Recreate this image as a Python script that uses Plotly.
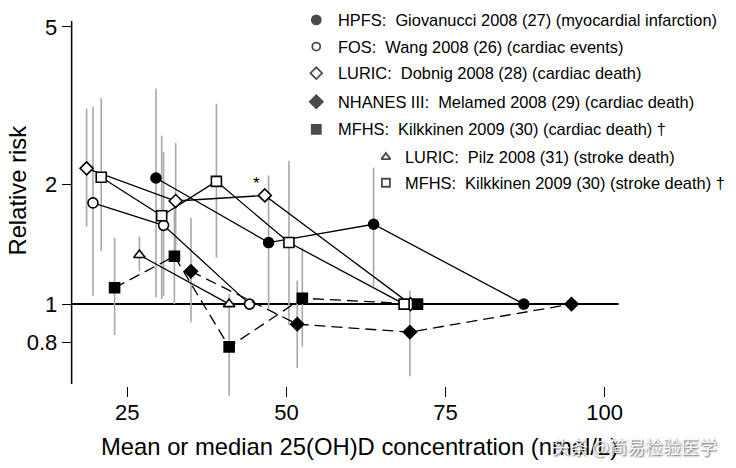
import math
import plotly.graph_objects as go

# ---------------- data ----------------
# HPFS: Giovanucci 2008 (myocardial infarction)
hpfs_x = [29.5, 47.2, 63.7, 87.3]
hpfs_rr = [2.08, 1.43, 1.59, 1.0]
hpfs_hi = [3.50, 2.11, 2.21, 1.0]
hpfs_lo = [1.04, 0.973, 1.11, 1.0]

# FOS: Wang 2008 (cardiac events)
fos_x = [19.6, 30.7, 44.2]
fos_rr = [1.80, 1.58, 1.0]
fos_hi = [3.15, 2.42, 1.0]
fos_lo = [1.05, 1.05, 1.0]

# LURIC: Dobnig 2008 (cardiac death)
dob_x = [18.6, 32.6, 46.6, 69.5]
dob_rr = [2.20, 1.82, 1.88, 1.0]
dob_hi = [3.11, 2.55, 1.88, 1.0]
dob_lo = [1.57, 1.30, 1.88, 1.0]

# NHANES III: Melamed 2008 (cardiac death)
nh_x = [35.0, 51.7, 69.4, 94.8]
nh_rr = [1.21, 0.89, 0.85, 1.0]
nh_hi = [1.65, 1.146, 1.08, 1.0]
nh_lo = [0.90, 0.69, 0.658, 1.0]

# MFHS: Kilkkinen 2009 (cardiac death)
mfc_x = [23.0, 32.4, 41.0, 52.5, 70.6]
mfc_rr = [1.10, 1.32, 0.78, 1.035, 1.0]
mfc_hi = [1.47, 1.75, 1.06, 1.39, 1.0]
mfc_lo = [0.836, 1.0, 0.587, 0.782, 1.0]

# LURIC: Pilz 2008 (stroke death)
pilz_x = [26.9, 41.0]
pilz_rr = [1.33, 1.0]
pilz_hi = [1.48, 1.0]
pilz_lo = [1.21, 1.0]

# MFHS: Kilkkinen 2009 (stroke death)
mfs_x = [20.9, 30.4, 39.0, 50.4, 68.5]
mfs_rr = [2.09, 1.67, 2.04, 1.43, 1.0]
mfs_hi = [3.31, 2.66, 3.20, 2.30, 1.0]
mfs_lo = [1.36, 1.03, 1.31, 0.885, 1.0]

x_ticks = [25, 50, 75, 100]
y_ticks = [0.8, 1, 2, 5]
y_ticktext = ["0.8", "1", "2", "5"]

legend_labels = [
    "HPFS:  Giovanucci 2008 (27) (myocardial infarction)",
    "FOS:  Wang 2008 (26) (cardiac events)",
    "LURIC:  Dobnig 2008 (28) (cardiac death)",
    "NHANES III:  Melamed 2008 (29) (cardiac death)",
    "MFHS:  Kilkkinen 2009 (30) (cardiac death) \u2020",
    "LURIC:  Pilz 2008 (31) (stroke death)",
    "MFHS:  Kilkkinen 2009 (30) (stroke death) \u2020",
]

x_title = "Mean or median 25(OH)D concentration (nmol/L)"
y_title = "Relative risk"

# ---------------- styling ----------------
FONT = "Liberation Sans, Arial, Helvetica, sans-serif"
OFF = 8                 # page (body) margin offset of the figure
W, H = 736 - 2 * OFF, 468 - 2 * OFF
ERR_COLOR = "#a8a8a8"

series = [
    # x, rr, hi, lo, symbol, fill, size, dash
    (hpfs_x, hpfs_rr, hpfs_hi, hpfs_lo, "circle", "black", 10, "solid"),
    (fos_x, fos_rr, fos_hi, fos_lo, "circle", "white", 10, "solid"),
    (dob_x, dob_rr, dob_hi, dob_lo, "diamond", "white", 10, "solid"),
    (nh_x, nh_rr, nh_hi, nh_lo, "diamond", "black", 10, "11px,6px"),
    (mfc_x, mfc_rr, mfc_hi, mfc_lo, "square", "black", 10, "11px,6px"),
    (pilz_x, pilz_rr, pilz_hi, pilz_lo, "triangle-up", "white", 10, "solid"),
    (mfs_x, mfs_rr, mfs_hi, mfs_lo, "square", "white", 10, "solid"),
]

fig = go.Figure()

# error bars first (underneath everything)
for xs, rr, hi, lo, sym, fill, size, dash in series:
    fig.add_trace(go.Scatter(
        x=xs, y=rr, mode="markers",
        marker=dict(size=1, opacity=0),
        error_y=dict(type="data", symmetric=False,
                     array=[h - r for h, r in zip(hi, rr)],
                     arrayminus=[r - l for r, l in zip(rr, lo)],
                     color=ERR_COLOR, thickness=1.6, width=0),
        showlegend=False, hoverinfo="skip", cliponaxis=False,
    ))

# reference line at RR = 1
fig.add_shape(type="line", xref="x domain", x0=0, x1=1, yref="y", y0=1, y1=1,
              line=dict(color="black", width=2), layer="below")

# lines + markers
for xs, rr, hi, lo, sym, fill, size, dash in series:
    fig.add_trace(go.Scatter(
        x=xs, y=rr, mode="lines+markers",
        line=dict(color="black", width=1.3, dash=dash),
        marker=dict(symbol=sym, size=size, color=fill,
                    line=dict(color="black", width=1.6)),
        showlegend=False, cliponaxis=False,
    ))

# legend markers (overlay subplot in reference-pixel coordinates)
leg_x = [318, 318, 318, 318, 318, 388, 388]
leg_y = [14, 41, 68, 97, 125, 153, 179]
leg_text_x = [338, 338, 338, 338, 338, 405, 405]
fig.add_trace(go.Scatter(
    x=leg_x, y=leg_y, xaxis="x2", yaxis="y2", mode="markers",
    marker=dict(symbol=[s[4] for s in series],
                color=[s[5] for s in series],
                size=[9, 8, 9, 10, 9, 8, 8],
                line=dict(color="black", width=1.8)),
    showlegend=False, hoverinfo="skip", cliponaxis=False,
))

annotations = []
for t, tx, ty in zip(legend_labels, leg_text_x, leg_y):
    annotations.append(dict(text=t, x=tx, y=ty, xref="x2", yref="y2",
                            xanchor="left", yanchor="middle", showarrow=False,
                            font=dict(family=FONT, size=16.4, color="black")))

# asterisk next to the third LURIC (Dobnig) point
annotations.append(dict(text="*", x=dob_x[2], y=math.log10(dob_rr[2]),
                        xref="x", yref="y", xshift=-8, yshift=12,
                        showarrow=False,
                        font=dict(family=FONT, size=17, color="black")))

# axis titles
annotations.append(dict(text=x_title, x=361, y=446, xref="x2", yref="y2",
                        xanchor="center", yanchor="middle", showarrow=False,
                        font=dict(family=FONT, size=23.8, color="black")))
annotations.append(dict(text=y_title, x=18, y=187, xref="x2", yref="y2",
                        xanchor="center", yanchor="middle", showarrow=False,
                        textangle=-90,
                        font=dict(family=FONT, size=23.8, color="black")))

# watermark
annotations.append(dict(text="头条 @简易检验医学", x=638, y=446, xref="x2", yref="y2",
                        xanchor="center", yanchor="middle", showarrow=False,
                        font=dict(family="Noto Sans CJK SC", size=18,
                                  color="rgba(255,255,255,0.92)",
                                  shadow="1px 1px 2px #444")))

# plot area in reference pixels
plot_left, plot_right, plot_top, plot_bottom = 72, 622, 15, 396
axis_line_bottom = 383

# y axis line
fig.add_shape(type="line", xref="x domain", x0=0, x1=0,
              yref="y domain",
              y0=(plot_bottom - axis_line_bottom) / (plot_bottom - plot_top), y1=1,
              line=dict(color="black", width=1.5))

x_lo = 16.25
x_hi = 102.2
y_lo = 0.5836
y_hi = 5.18

fig.update_layout(
    width=W, height=H,
    margin=dict(l=0, r=0, t=0, b=0),
    paper_bgcolor="white", plot_bgcolor="rgba(0,0,0,0)",
    font=dict(family=FONT, color="black"),
    xaxis=dict(domain=[(plot_left - OFF) / W, (plot_right - OFF) / W],
               range=[x_lo, x_hi],
               tickvals=x_ticks, ticks="inside", ticklen=10, tickwidth=1,
               tickcolor="black", showline=False, showgrid=False,
               zeroline=False, tickfont=dict(size=22, family=FONT, color="black"),
               anchor="y"),
    yaxis=dict(domain=[(H + OFF - plot_bottom) / H, (H + OFF - plot_top) / H],
               type="log",
               range=[math.log10(y_lo), math.log10(y_hi)],
               tickvals=y_ticks, ticktext=y_ticktext, ticks="outside",
               ticklen=9, tickwidth=1.3, tickcolor="black",
               showline=False, showgrid=False, zeroline=False,
               tickfont=dict(size=22, family=FONT, color="black"),
               anchor="x"),
    xaxis2=dict(domain=[0, 1], range=[OFF, OFF + W], visible=False, anchor="y2",
                fixedrange=True),
    yaxis2=dict(domain=[0, 1], range=[OFF + H, OFF], visible=False, anchor="x2",
                fixedrange=True),
    annotations=annotations,
    showlegend=False,
)

fig.write_html("out.html")
